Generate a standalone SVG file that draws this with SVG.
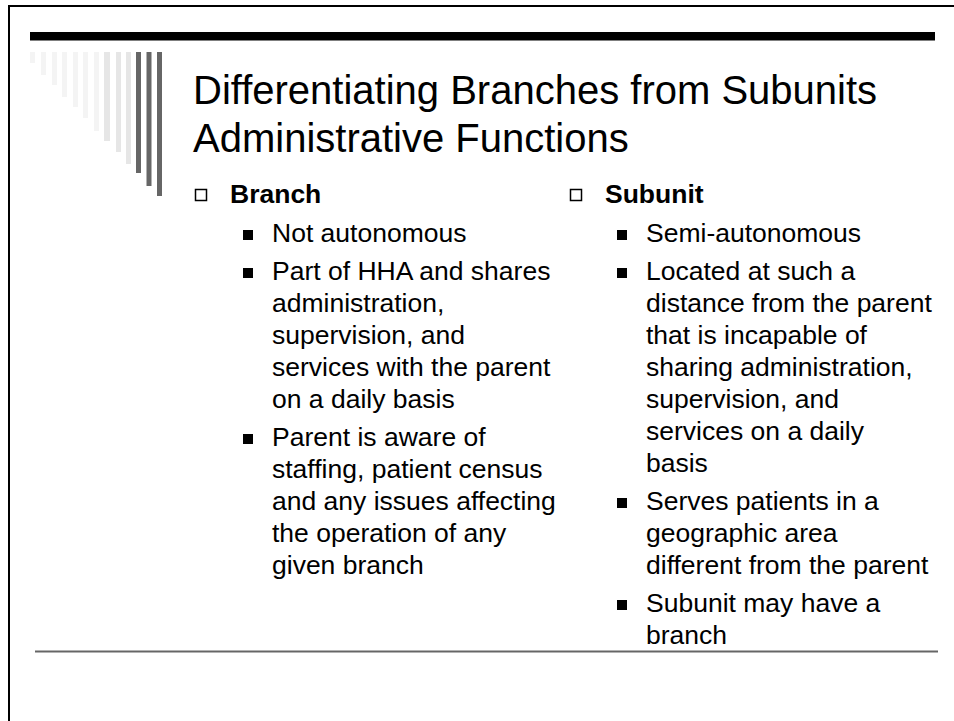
<svg xmlns="http://www.w3.org/2000/svg" width="954" height="721" viewBox="0 0 954 721">
<style>
text{font-family:"Liberation Sans",Arial,sans-serif;fill:#000}
.title{font-size:40px}
.head{font-size:26.5px;font-weight:bold}
.body{font-size:26.5px}
.hb{fill:#fff;stroke:#000;stroke-width:1.5}
.fb{fill:#000}
.dk{fill:#666}
.lt{fill:#e6e6e6}
.vl{fill:#f4f4f4}
</style>
<rect x="0" y="0" width="954" height="721" fill="#fff"/>
<g id="frame">
<path d="M9,721 V6 H954" fill="none" stroke="#000" stroke-width="2"/>
<rect x="30" y="32" width="905" height="8.5" fill="#000"/>
<line x1="35" y1="651.5" x2="938" y2="651.5" stroke="#666" stroke-width="2"/>
</g>
<g id="bars">
<rect class="vl" x="30" y="52" width="5" height="11"/>
<rect class="vl" x="41" y="52" width="5" height="23"/>
<rect class="vl" x="52" y="52" width="5" height="33"/>
<rect class="vl" x="62" y="52" width="5" height="45"/>
<rect class="vl" x="73" y="52" width="5" height="55"/>
<rect class="vl" x="83" y="52" width="5" height="66"/>
<rect class="vl" x="94" y="52" width="5" height="79"/>
<rect class="lt" x="104" y="52" width="6" height="89"/>
<rect class="lt" x="116" y="52" width="5" height="100"/>
<rect class="lt" x="126" y="52" width="5" height="112"/>
<rect class="dk" x="136" y="52" width="5" height="121"/>
<rect class="dk" x="146.5" y="52" width="5" height="134"/>
<rect class="dk" x="157" y="52" width="5" height="144"/>
</g>
<g id="title">
<text class="title" x="193" y="104">Differentiating Branches from Subunits</text>
<text class="title" x="193" y="152">Administrative Functions</text>
</g>
<g id="branch">
<rect class="hb" x="195.5" y="189.5" width="11" height="11"/>
<text class="head" x="230" y="203">Branch</text>
<rect class="fb" x="243" y="230" width="10" height="10"/>
<text class="body" x="272" y="242">Not autonomous</text>
<rect class="fb" x="243" y="268" width="10" height="10"/>
<text class="body" x="272" y="280">Part of HHA and shares</text>
<text class="body" x="272" y="312">administration,</text>
<text class="body" x="272" y="344">supervision, and</text>
<text class="body" x="272" y="376">services with the parent</text>
<text class="body" x="272" y="408">on a daily basis</text>
<rect class="fb" x="243" y="434" width="10" height="10"/>
<text class="body" x="272" y="446">Parent is aware of</text>
<text class="body" x="272" y="478">staffing, patient census</text>
<text class="body" x="272" y="510">and any issues affecting</text>
<text class="body" x="272" y="542">the operation of any</text>
<text class="body" x="272" y="574">given branch</text>
</g>
<g id="subunit">
<rect class="hb" x="570.5" y="189.5" width="11" height="11"/>
<text class="head" x="605" y="203">Subunit</text>
<rect class="fb" x="617" y="230" width="10" height="10"/>
<text class="body" x="646" y="242">Semi-autonomous</text>
<rect class="fb" x="617" y="268" width="10" height="10"/>
<text class="body" x="646" y="280">Located at such a</text>
<text class="body" x="646" y="312">distance from the parent</text>
<text class="body" x="646" y="344">that is incapable of</text>
<text class="body" x="646" y="376">sharing administration,</text>
<text class="body" x="646" y="408">supervision, and</text>
<text class="body" x="646" y="440">services on a daily</text>
<text class="body" x="646" y="472">basis</text>
<rect class="fb" x="617" y="498" width="10" height="10"/>
<text class="body" x="646" y="510">Serves patients in a</text>
<text class="body" x="646" y="542">geographic area</text>
<text class="body" x="646" y="574">different from the parent</text>
<rect class="fb" x="617" y="600" width="10" height="10"/>
<text class="body" x="646" y="612">Subunit may have a</text>
<text class="body" x="646" y="644">branch</text>
</g>
</svg>
